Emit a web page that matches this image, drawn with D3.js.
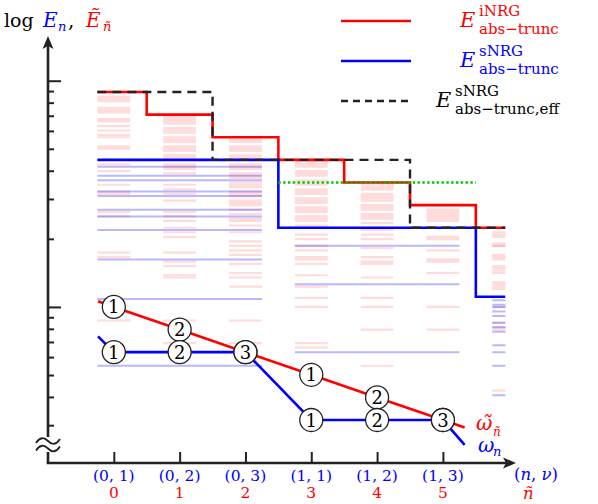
<!DOCTYPE html>
<html>
<head>
<meta charset="utf-8">
<script src="https://cdn.jsdelivr.net/npm/d3@7"></script>
<style>
  body { margin: 0; background: #fff; }
  text { font-family: "DejaVu Serif", serif; }
</style>
</head>
<body>
<div id="chart"></div>
<script>
// ---- data (energies as log10 E) ----
var nTildeLabels = ['0', '1', '2', '3', '4', '5'];
var nNuLabels = ['(0, 1)', '(0, 2)', '(0, 3)', '(1, 1)', '(1, 2)', '(1, 3)'];
var nuLabels = ['1', '2', '3', '1', '2', '3'];

// iNRG levels per column ñ = 0..6
var levelsINRG = [
  [0.93, 0.92, 0.91, 0.88, 0.87, 0.86, 0.83, 0.82, 0.80, 0.78, 0.76, 0.75, 0.71, 0.70, 0.63, 0.60, 0.54, 0.51, 0.50, 0.42, 0.40, 0.24, 0.22, -0.06],
  [0.84, 0.83, 0.82, 0.81, 0.79, 0.78, 0.77, 0.75, 0.74, 0.73, 0.71, 0.70, 0.69, 0.67, 0.66, 0.65, 0.63, 0.62, 0.61, 0.59, 0.54, 0.52, 0.50, 0.47, 0.42, 0.40, 0.38, 0.35, 0.33, 0.31, 0.24, 0.20, 0.18, 0.14, 0.13, -0.06, -0.16],
  [0.74, 0.73, 0.71, 0.70, 0.69, 0.67, 0.66, 0.65, 0.63, 0.62, 0.61, 0.59, 0.58, 0.57, 0.55, 0.54, 0.53, 0.51, 0.50, 0.49, 0.47, 0.46, 0.45, 0.43, 0.41, 0.39, 0.38, 0.36, 0.33, 0.29, 0.27, 0.25, 0.23, 0.19, 0.15, 0.13, 0.09, -0.06, -0.16],
  [0.64, 0.63, 0.62, 0.60, 0.59, 0.58, 0.56, 0.55, 0.54, 0.52, 0.51, 0.50, 0.48, 0.47, 0.46, 0.44, 0.43, 0.42, 0.40, 0.39, 0.38, 0.36, 0.35, 0.32, 0.30, 0.27, 0.25, 0.22, 0.21, 0.19, 0.14, 0.09, 0.04, 0.00, -0.16, -0.18],
  [0.54, 0.53, 0.52, 0.50, 0.49, 0.48, 0.47, 0.45, 0.44, 0.43, 0.41, 0.40, 0.39, 0.37, 0.34, 0.32, 0.30, 0.26, 0.22, 0.20, 0.19, 0.13, 0.04, 0.00, -0.10, -0.26],
  [0.43, 0.42, 0.41, 0.40, 0.39, 0.38, 0.31, 0.30, 0.25, 0.21, 0.20, 0.15, 0.00, -0.10],
  [0.33, 0.32, 0.31, 0.28, 0.27, 0.27, 0.23, 0.22, 0.21, 0.18, 0.17, 0.16, 0.15, 0.11, 0.10, 0.09, 0.08, 0.00, -0.07, -0.09, -0.10, -0.37]
];

// sNRG levels per shell n = 0, 1, 2 (each shell spans its ν columns)
var shellCols = [[0, 2], [3, 5], [6, 6]];
var levelsS0 = [0.65, 0.62, 0.58, 0.56, 0.51, 0.49, 0.43, 0.40, 0.34, 0.21, 0.035, -0.26];
var levelsS1 = [0.35, 0.27, 0.10, -0.20];
var levelsS2 = [0.045, 0.03, 0.01, 0.00, -0.02, -0.04, -0.07, -0.09, -0.11, -0.17, -0.20, -0.26, -0.39];

// truncation energies per column ñ
var truncINRG = [0.95, 0.85, 0.75, 0.65, 0.55, 0.45, 0.35];
var truncSNRG = [0.65, 0.65, 0.65, 0.35, 0.35, 0.35, 0.045];
var truncEff  = [0.95, 0.95, 0.65, 0.65, 0.65, 0.35, 0.35];
var greenLevel = 0.55, greenFrom = 2.5, greenTo = 5.5;

// rescaled energy scales
var omegaTilde = [0, -0.1, -0.2, -0.3, -0.4, -0.5];
var omega = [-0.2, -0.2, -0.2, -0.5, -0.5, -0.5];
var omegaTildeEnds = [[-0.24, 0.025], [5.33, -0.533]];
var omegaEnds = [[-0.24, -0.13], [5.33, -0.61]];

var yMinorTicks = [0.3, 0.4, 0.5, 0.6, 0.7, 0.8, 0.9, 2, 3, 4, 5, 6, 7, 8, 9];
var yMajorTicks = [1, 10];

// ---- layout ----
var width = 598, height = 504;
var colHalf = 0.25, xStart = -0.25, xEnd = 5.95;
var red = '#ff0000', blue = '#0000ff', ink = '#222';

var x = d3.scaleLinear().domain([-1, 6.08]).range([48, 514]);
var y = d3.scaleLinear().domain([-0.69, 1.18]).range([463, 40]);
var yLog = d3.scaleLog().domain([Math.pow(10, -0.69), Math.pow(10, 1.18)]).range([463, 40]);

var svg = d3.select('#chart').append('svg')
    .attr('width', width)
    .attr('height', height);

svg.append('defs').append('clipPath').attr('id', 'clip')
  .append('rect')
    .attr('x', x(-1)).attr('y', 0)
    .attr('width', x(xEnd) - x(-1)).attr('height', height);

var plot = svg.append('g').attr('clip-path', 'url(#clip)');

// iNRG levels (pink)
levelsINRG.forEach(function(levels, c) {
  plot.append('g').selectAll('line')
    .data(levels)
    .join('line')
      .attr('x1', x(c - colHalf)).attr('x2', x(c + colHalf))
      .attr('y1', d => y(d)).attr('y2', d => y(d))
      .attr('stroke', red).attr('stroke-opacity', 0.14)
      .attr('stroke-width', 2.2);
});

// sNRG levels (light blue)
[levelsS0, levelsS1, levelsS2].forEach(function(levels, n) {
  var span = shellCols[n];
  plot.append('g').selectAll('line')
    .data(levels.slice(1))
    .join('line')
      .attr('x1', x(span[0] - colHalf)).attr('x2', x(span[1] + colHalf))
      .attr('y1', d => y(d)).attr('y2', d => y(d))
      .attr('stroke', blue).attr('stroke-opacity', 0.28)
      .attr('stroke-width', 2);
});

var stairs = function(vals) {
  var pts = vals.map((v, i) => [i === 0 ? xStart : i - 0.5, v]);
  pts.push([xEnd, vals[vals.length - 1]]);
  return d3.line().x(d => x(d[0])).y(d => y(d[1])).curve(d3.curveStepAfter)(pts);
};

plot.append('path').attr('d', stairs(truncINRG))
    .attr('fill', 'none').attr('stroke', red).attr('stroke-width', 2.6);
plot.append('path').attr('d', stairs(truncSNRG))
    .attr('fill', 'none').attr('stroke', blue).attr('stroke-width', 2.6);
plot.append('line')
    .attr('x1', x(greenFrom)).attr('x2', x(greenTo))
    .attr('y1', y(greenLevel)).attr('y2', y(greenLevel))
    .attr('stroke', '#00c800').attr('stroke-width', 2.6)
    .attr('stroke-dasharray', '2.4,2.4');
plot.append('path').attr('d', stairs(truncEff))
    .attr('fill', 'none').attr('stroke', ink).attr('stroke-width', 2.4)
    .attr('stroke-dasharray', '9,6');

// rescaled energy lines with (ν) markers
var lineGen = d3.line().x(d => x(d[0])).y(d => y(d[1]));
var drawScale = function(vals, ends, color) {
  var pts = [ends[0]].concat(vals.map((v, i) => [i, v]), [ends[1]]);
  svg.append('path').attr('d', lineGen(pts))
      .attr('fill', 'none').attr('stroke', color).attr('stroke-width', 2.6);
};
drawScale(omegaTilde, omegaTildeEnds, red);
drawScale(omega, omegaEnds, blue);

[omegaTilde, omega].forEach(function(vals) {
  var g = svg.append('g').selectAll('g')
    .data(vals)
    .join('g')
      .attr('transform', (d, i) => 'translate(' + x(i) + ',' + y(d) + ')');
  g.append('circle').attr('r', 11.5)
      .attr('fill', '#fff').attr('stroke', ink).attr('stroke-width', 1.3);
  g.append('text').text((d, i) => nuLabels[i])
      .attr('text-anchor', 'middle').attr('dy', '0.36em')
      .attr('font-size', 18).attr('fill', '#000');
});

// y axis
var yAxisG = svg.append('g').attr('transform', 'translate(' + x(-1) + ',0)');
yAxisG.append('g')
    .call(d3.axisRight(yLog).tickValues(yMinorTicks).tickSize(6).tickFormat(''))
    .call(g => g.select('.domain').remove());
yAxisG.append('g')
    .call(d3.axisRight(yLog).tickValues(yMajorTicks).tickSize(13).tickFormat(''))
    .call(g => g.select('.domain').remove());
yAxisG.selectAll('.tick line').attr('stroke', ink).attr('stroke-width', 2);
yAxisG.append('line').attr('x1', 0).attr('x2', 0).attr('y1', 463).attr('y2', 46)
    .attr('stroke', ink).attr('stroke-width', 2.6);
yAxisG.append('path').attr('d', 'M0,36 L-5.5,49 L0,46 L5.5,49 Z').attr('fill', ink);

// x axis
var xAxisG = svg.append('g').attr('transform', 'translate(0,463)');
xAxisG.append('g')
    .call(d3.axisTop(x).tickValues(d3.range(nNuLabels.length)).tickSize(11).tickFormat(''))
    .call(g => g.select('.domain').remove());
xAxisG.selectAll('.tick line').attr('stroke', ink).attr('stroke-width', 2);
xAxisG.append('line').attr('x1', x(-1) - 1.3).attr('x2', 506).attr('y1', 0).attr('y2', 0)
    .attr('stroke', ink).attr('stroke-width', 2.6);
xAxisG.append('path').attr('d', 'M516,0 L503,-5.5 L506,0 L503,5.5 Z').attr('fill', ink);

xAxisG.selectAll('.nnu').data(nNuLabels).join('text')
    .attr('class', 'nnu')
    .attr('x', (d, i) => x(i)).attr('y', 18)
    .attr('text-anchor', 'middle').attr('font-size', 15.5).attr('fill', blue)
    .text(d => d);
xAxisG.selectAll('.nt').data(nTildeLabels).join('text')
    .attr('class', 'nt')
    .attr('x', (d, i) => x(i)).attr('y', 35)
    .attr('text-anchor', 'middle').attr('font-size', 15.5).attr('fill', red)
    .text(d => d);

var nnuLabel = xAxisG.append('text').attr('x', 514).attr('y', 17)
    .attr('font-size', 16.5).attr('fill', blue);
nnuLabel.append('tspan').text('(');
nnuLabel.append('tspan').attr('font-style', 'italic').text('n');
nnuLabel.append('tspan').text(', ');
nnuLabel.append('tspan').attr('font-style', 'italic').text('ν');
nnuLabel.append('tspan').text(')');
xAxisG.append('text').attr('x', 523).attr('y', 36)
    .attr('font-size', 16.5).attr('font-style', 'italic').attr('fill', red).text('ñ');

// axis break
svg.append('rect').attr('x', 43).attr('y', 437).attr('width', 10).attr('height', 15).attr('fill', '#fff');
[441, 448.5].forEach(function(yy) {
  svg.append('path')
      .attr('d', 'M36,' + (yy + 2) + ' C40,' + (yy - 4) + ' 44,' + (yy - 4) + ' 48,' + yy +
                 ' S56,' + (yy + 4) + ' 60,' + (yy - 2))
      .attr('fill', 'none').attr('stroke', ink).attr('stroke-width', 1.8);
});

// y axis title
svg.append('text').attr('x', 4).attr('y', 27).attr('font-size', 19).text('log');
svg.append('text').attr('x', 43).attr('y', 27).attr('font-size', 20)
    .attr('font-style', 'italic').attr('fill', blue).text('E');
svg.append('text').attr('x', 58).attr('y', 31).attr('font-size', 13)
    .attr('font-style', 'italic').attr('fill', blue).text('n');
svg.append('text').attr('x', 68).attr('y', 27).attr('font-size', 20).text(',');
svg.append('text').attr('x', 86).attr('y', 27).attr('font-size', 20)
    .attr('font-style', 'italic').attr('fill', red).text('Ẽ');
svg.append('text').attr('x', 103).attr('y', 31).attr('font-size', 13)
    .attr('font-style', 'italic').attr('fill', red).text('ñ');

// curve labels
svg.append('text').attr('x', 476).attr('y', 430).attr('font-size', 20)
    .attr('font-style', 'italic').attr('fill', red).text('ω̃');
svg.append('text').attr('x', 493).attr('y', 436).attr('font-size', 12)
    .attr('font-style', 'italic').attr('fill', red).text('ñ');
svg.append('text').attr('x', 478).attr('y', 452).attr('font-size', 20)
    .attr('font-style', 'italic').attr('fill', blue).text('ω');
svg.append('text').attr('x', 493).attr('y', 456).attr('font-size', 13)
    .attr('font-style', 'italic').attr('fill', blue).text('n');

// legend
var legendRows = [
  {color: red, dash: null, sup: 'iNRG', sub: 'abs−trunc', ex: 460, sx: 479},
  {color: blue, dash: null, sup: 'sNRG', sub: 'abs−trunc', ex: 460, sx: 479},
  {color: '#000', dash: '7,5', sup: 'sNRG', sub: 'abs−trunc,eff', ex: 436, sx: 455}
];
legendRows.forEach(function(r, i) {
  var ly = 21 + i * 40;
  svg.append('line').attr('x1', 341).attr('x2', 411).attr('y1', ly).attr('y2', ly)
      .attr('stroke', r.dash ? ink : r.color).attr('stroke-width', 2.6)
      .attr('stroke-dasharray', r.dash);
  svg.append('text').attr('x', r.ex).attr('y', ly + 6).attr('font-size', 21)
      .attr('font-style', 'italic').attr('fill', r.color).text('E');
  svg.append('text').attr('x', r.sx).attr('y', ly - 5).attr('font-size', 15)
      .attr('fill', r.color).text(r.sup);
  svg.append('text').attr('x', r.sx).attr('y', ly + 13).attr('font-size', 15)
      .attr('fill', r.color).text(r.sub);
});
</script>
</body>
</html>
